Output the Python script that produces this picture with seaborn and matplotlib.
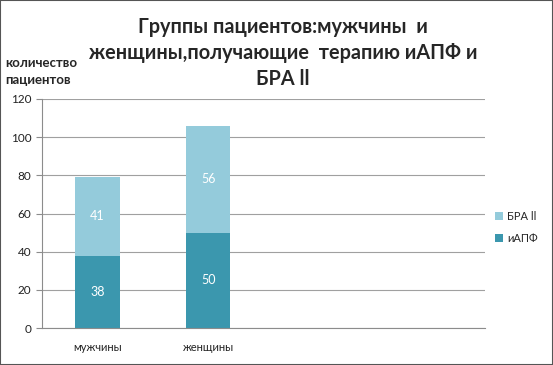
import matplotlib
matplotlib.use("Agg")
import matplotlib.pyplot as plt
import seaborn as sns
import pandas as pd
import numpy as np

# данные
categories = ["мужчины", "женщины", "", " "]
iapf = [38, 50, np.nan, np.nan]
bra = [41, 56, np.nan, np.nan]
yticks = [0, 20, 40, 60, 80, 100, 120]

df = pd.DataFrame({"group": categories, "иАПФ": iapf, "БРА ll": bra})
df["total"] = df["иАПФ"] + df["БРА ll"]

sns.set_style("white")
plt.rcParams["font.family"] = ["Lato", "DejaVu Sans"]

c_dark = "#3b97ae"
c_light = "#94cbdb"

fig = plt.figure(figsize=(5.53, 3.65), dpi=100)
ax = fig.add_axes([0.076, 0.101, 0.801, 0.628])

sns.barplot(data=df, x="group", y="total", order=categories, color=c_light,
            width=0.4, saturation=1, linewidth=0, ax=ax, label="БРА ll")
sns.barplot(data=df, x="group", y="иАПФ", order=categories, color=c_dark,
            width=0.4, saturation=1, linewidth=0, ax=ax, label="иАПФ")

# подписи значений
for i in range(len(categories)):
    if np.isnan(iapf[i]):
        continue
    ax.text(i, iapf[i] / 2, f"{iapf[i]:.0f}", ha="center", va="center",
            color="white", fontsize=9)
    ax.text(i, iapf[i] + bra[i] / 2, f"{bra[i]:.0f}", ha="center", va="center",
            color="white", fontsize=9)

ax.set_xlim(-0.5, len(categories) - 0.5)
ax.set_ylim(0, 120)
ax.set_yticks(yticks)
ax.yaxis.grid(True, color="#a0a0a0", linewidth=0.8)
ax.set_axisbelow(True)
ax.set_xlabel("")
ax.set_ylabel("")

for s in ["top", "right"]:
    ax.spines[s].set_visible(False)
for s in ["left", "bottom"]:
    ax.spines[s].set_color("#8c8c8c")
    ax.spines[s].set_linewidth(0.8)

ax.set_xticks(range(len(categories)))
ax.set_xticklabels(categories)
ax.set_xticks(np.arange(-0.5, len(categories)), minor=True)
ax.tick_params(axis="x", which="major", length=0, labelsize=8, pad=10, colors="#222222")
ax.tick_params(axis="x", which="minor", length=5, color="#8c8c8c", direction="out")
ax.tick_params(axis="y", length=4, color="#8c8c8c", direction="out", left=True,
               labelsize=8.5, labelcolor="#222222")

h, l = ax.get_legend_handles_labels()
ax.legend(h, l, loc="center left", bbox_to_anchor=(1.0, 0.44), frameon=False,
          fontsize=8, handlelength=0.7, handleheight=0.7, handletextpad=0.4,
          labelspacing=1.0)

fig.text(0.512, 0.855, "Группы пациентов:мужчины  и\nженщины,получающие  терапию иАПФ и\nБРА ll",
         ha="center", va="center", fontsize=14.3, fontweight="bold",
         linespacing=1.4)
fig.text(0.01, 0.804, "количество\nпациентов", ha="left", va="center",
         fontsize=9.5, fontweight="bold", linespacing=1.45)

fig.patches.append(plt.Rectangle((0, 0), 1, 1, transform=fig.transFigure,
                                 fill=False, edgecolor="#555555", linewidth=1.5))

plt.savefig("out.png", dpi=100)
